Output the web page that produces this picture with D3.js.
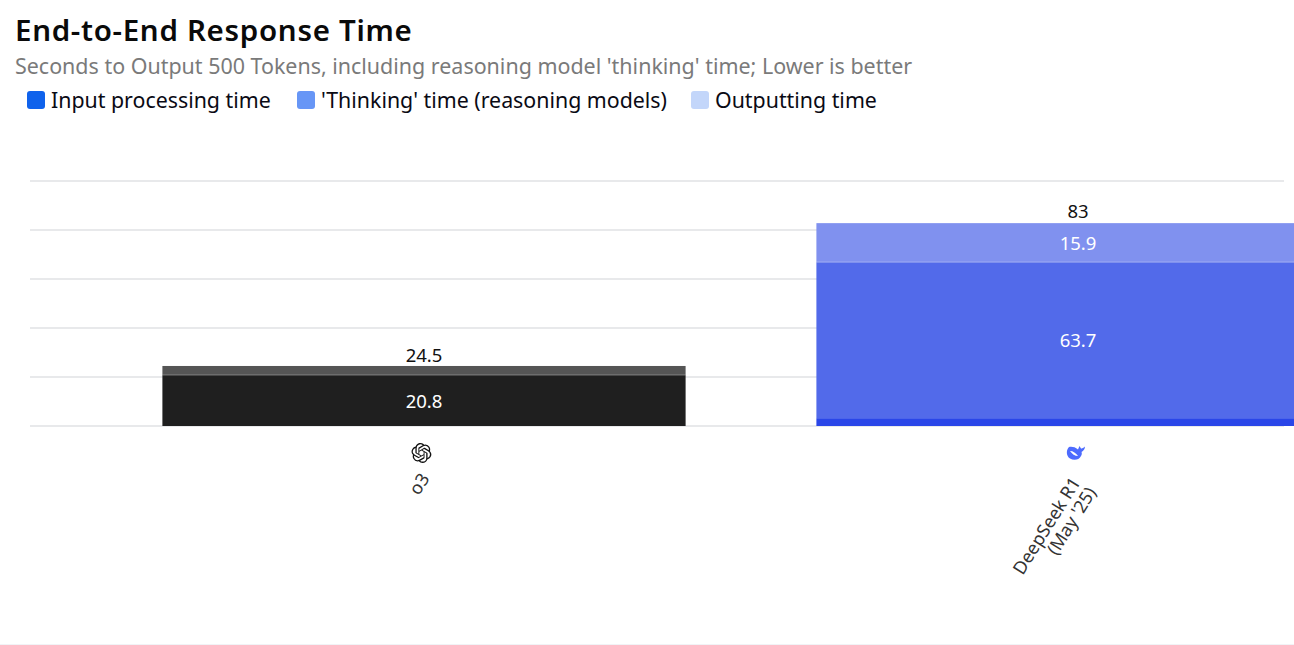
<!DOCTYPE html>
<html lang="en">
<head>
<meta charset="utf-8">
<title>End-to-End Response Time</title>
<script src="https://d3js.org/d3.v7.min.js"></script>
<style>
  body { margin: 0; background: #fff; overflow: hidden; }
  svg { display: block; font-family: "Noto Sans", sans-serif; }
</style>
</head>
<body>
<div id="chart"></div>
<script>
// chart values
const models = ["o3", "DeepSeek R1|(May '25)"];
const inputTime = [0, 3.2];
const thinkingTime = [20.8, 63.7];
const outputTime = [3.7, 15.9];
const totals = ["24.5", "83"];
const yTicks = [0, 20, 40, 60, 80, 100];
const legendLabels = ["Input processing time", "'Thinking' time (reasoning models)", "Outputting time"];
const legendColors = ["#0f62ec", "#6796f6", "#c3d6fa"];
const legendX = [27, 297, 691];

// one colour per model, per stack layer
const barColors = [
  ["#1f1f1f", "#1f1f1f", "#555555"],
  ["#2a46e8", "#526aea", "#8091ef"]
];

const width = 1294, height = 645;
const svg = d3.select("#chart").append("svg")
  .attr("width", width)
  .attr("height", height);

// title and subtitle
svg.append("text").attr("x", 15).attr("y", 41)
  .attr("font-size", 29.5).attr("font-weight", 600).attr("fill", "#0a0a0a")
  .attr("letter-spacing", 0.7)
  .text("End-to-End Response Time");
svg.append("text").attr("x", 15).attr("y", 74)
  .attr("font-size", 21.45).attr("fill", "#7a7a7a")
  .text("Seconds to Output 500 Tokens, including reasoning model 'thinking' time; Lower is better");

// legend
const legend = svg.selectAll(".legend").data(legendLabels).enter().append("g")
  .attr("class", "legend")
  .attr("transform", (d, i) => "translate(" + legendX[i] + ",91)");
legend.append("rect")
  .attr("width", 18).attr("height", 18).attr("rx", 3)
  .attr("fill", (d, i) => legendColors[i]);
legend.append("text").attr("x", 24).attr("y", 17)
  .attr("font-size", 21.35).attr("fill", "#0a0a14")
  .text(d => d);

// scales
const x = d3.scaleBand().domain(models).range([97, 1405]).paddingInner(0.2).paddingOuter(0.1);
const y = d3.scaleLinear().domain([0, 100]).range([426, 181]);

// gridlines
svg.selectAll(".grid").data(yTicks).enter().append("line")
  .attr("class", "grid")
  .attr("x1", 30).attr("x2", 1284)
  .attr("y1", d => y(d)).attr("y2", d => y(d))
  .attr("stroke", "#e0e2e4").attr("stroke-width", 1.5);

// stacked bars
const rows = models.map((m, i) => ({model: m, input: inputTime[i], thinking: thinkingTime[i], output: outputTime[i]}));
const layers = d3.stack().keys(["input", "thinking", "output"])(rows);

layers.forEach((layer, k) => {
  svg.selectAll(".bar" + k).data(layer).enter().append("rect")
    .attr("class", "bar" + k)
    .attr("x", d => x(d.data.model))
    .attr("width", x.bandwidth())
    .attr("y", d => y(d[1]))
    .attr("height", d => y(d[0]) - y(d[1]))
    .attr("fill", (d, i) => barColors[i][k]);

  // value labels inside the large segments
  svg.selectAll(".val" + k).data(layer.filter(d => d[1] - d[0] > 10)).enter().append("text")
    .attr("class", "val" + k)
    .attr("x", d => x(d.data.model) + x.bandwidth() / 2)
    .attr("y", d => y((d[0] + d[1]) / 2) + 7)
    .attr("text-anchor", "middle")
    .attr("font-size", 18.5).attr("fill", "#ffffff")
    .text(d => (d[1] - d[0]).toFixed(1));
});

// thin light edge along the top of the lighter segments
svg.selectAll(".edge").data(layers[2]).enter().append("line")
  .attr("class", "edge")
  .attr("x1", d => x(d.data.model))
  .attr("x2", d => x(d.data.model) + x.bandwidth())
  .attr("y1", d => y(d[0])).attr("y2", d => y(d[0]))
  .attr("stroke", "#ffffff").attr("stroke-opacity", 0.3);

// totals on top
const stackTop = layers[layers.length - 1];
svg.selectAll(".total").data(stackTop).enter().append("text")
  .attr("class", "total")
  .attr("x", d => x(d.data.model) + x.bandwidth() / 2)
  .attr("y", (d, i) => y(d[1]) - (i ? 5 : 4))
  .attr("text-anchor", "middle")
  .attr("font-size", 18.5).attr("fill", "#111111")
  .text((d, i) => totals[i]);

// rotated category labels
const tick = svg.selectAll(".tick").data(models).enter().append("g")
  .attr("class", "tick")
  .attr("transform", d => "translate(" + (x(d) + x.bandwidth() / 2) + ",0)");

tick.each(function(d, i) {
  const lines = d.split("|");
  const g = d3.select(this).append("g")
    .attr("transform", "translate(" + (i ? 6 : 1) + "," + (i ? 484 : 475) + ") rotate(-58)");
  lines.forEach((line, j) => {
    g.append("text")
      .attr("x", 0)
      .attr("y", j * 18.5 - (lines.length - 1) * 9.25 + 6)
      .attr("text-anchor", "end")
      .attr("font-size", 18).attr("fill", "#333333")
      .text(line);
  });
});

// OpenAI knot icon
svg.append("path")
  .attr("transform", "translate(411.5,443) scale(0.83)")
  .attr("fill", "#111")
  .attr("d", "M22.2819 9.8211a5.9847 5.9847 0 0 0-.5157-4.9108 6.0462 6.0462 0 0 0-6.5098-2.9A6.0651 6.0651 0 0 0 4.9807 4.1818a5.9847 5.9847 0 0 0-3.9977 2.9 6.0462 6.0462 0 0 0 .7427 7.0966 5.98 5.98 0 0 0 .511 4.9107 6.051 6.051 0 0 0 6.5146 2.9001A5.9847 5.9847 0 0 0 13.2599 24a6.0557 6.0557 0 0 0 5.7718-4.2058 5.9894 5.9894 0 0 0 3.9977-2.9001 6.0557 6.0557 0 0 0-.7475-7.0729zm-9.022 12.6081a4.4755 4.4755 0 0 1-2.8764-1.0408l.1419-.0804 4.7783-2.7582a.7948.7948 0 0 0 .3927-.6813v-6.7369l2.02 1.1686a.071.071 0 0 1 .038.052v5.5826a4.504 4.504 0 0 1-4.4945 4.4944zm-9.6607-4.1254a4.4708 4.4708 0 0 1-.5346-3.0137l.142.0852 4.783 2.7582a.7712.7712 0 0 0 .7806 0l5.8428-3.3685v2.3324a.0804.0804 0 0 1-.0332.0615L9.74 19.9502a4.4992 4.4992 0 0 1-6.1408-1.6464zM2.3408 7.8956a4.485 4.485 0 0 1 2.3655-1.9728V11.6a.7664.7664 0 0 0 .3879.6765l5.8144 3.3543-2.0201 1.1685a.0757.0757 0 0 1-.071 0l-4.8303-2.7865A4.504 4.504 0 0 1 2.3408 7.872zm16.5963 3.8558L13.1038 8.364 15.1192 7.2a.0757.0757 0 0 1 .071 0l4.8303 2.7913a4.4944 4.4944 0 0 1-.6765 8.1042v-5.6772a.79.79 0 0 0-.407-.667zm2.0107-3.0231l-.142-.0852-4.7735-2.7818a.7759.7759 0 0 0-.7854 0L9.409 9.2297V6.8974a.0662.0662 0 0 1 .0284-.0615l4.8303-2.7866a4.4992 4.4992 0 0 1 6.6802 4.66zM8.3065 12.863l-2.02-1.1638a.0804.0804 0 0 1-.038-.0567V6.0742a4.4992 4.4992 0 0 1 7.3757-3.4537l-.142.0805L8.704 5.459a.7948.7948 0 0 0-.3927.6813zm1.0976-2.3654l2.602-1.4998 2.6069 1.4998v2.9994l-2.5974 1.4997-2.6067-1.4997Z");

// DeepSeek whale icon, body then the pale fin
const whale = svg.append("g").attr("transform", "translate(1076,453)");
whale.append("path")
  .attr("fill", "#4d6bfe")
  .attr("d", "M-7,-6 C-10,-3 -10,3 -6,5.5 C-2,8 3,7 5,3 C6,1.5 6,0 5.5,-1 C7.5,-2 9,-4 9,-6.5 C7.5,-5 6,-4.5 5,-4.5 L3.5,-7 L2,-3.5 C-1,-6 -4,-6.5 -7,-6 Z");
whale.append("path")
  .attr("fill", "#ffffff")
  .attr("d", "M-6,-2 C-3,-2 0,0 2,3 C-1,3 -4,1 -6,-2 Z");

// faint line along the bottom of the page
svg.append("line").attr("x1", 0).attr("x2", width).attr("y1", 644.5).attr("y2", 644.5)
  .attr("stroke", "#f1f3f6").attr("stroke-width", 1);
</script>
</body>
</html>
